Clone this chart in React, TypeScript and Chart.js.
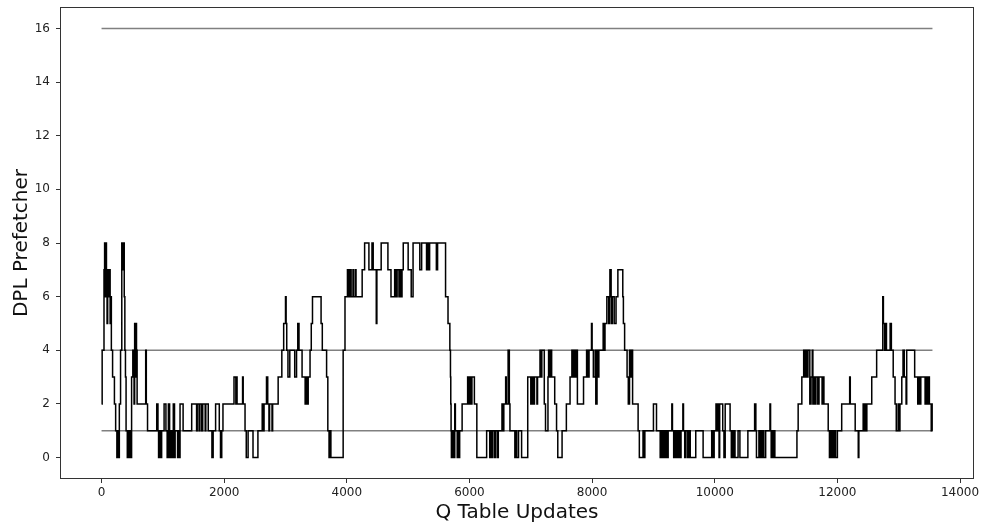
import { useEffect, useRef } from "react";
import { Chart, registerables } from "chart.js";

Chart.register(...registerables);

// Q-table update index at which the DPL prefetcher setting changes
const updates = [
  0, 10, 40, 50, 60, 70, 80, 90, 100, 110, 130, 140, 150, 160, 180, 210, 230, 250, 260, 270,
  290, 310, 330, 350, 360, 370, 380, 390, 400, 420, 435, 445, 460, 470, 490, 510, 530, 540, 550, 560,
  570, 580, 720, 730, 750, 900, 920, 930, 950, 965, 980, 1020, 1050, 1070, 1090, 1110, 1130, 1150, 1170, 1190,
  1200, 1240, 1250, 1265, 1280, 1330, 1470, 1550, 1560, 1590, 1600, 1630, 1650, 1690, 1700, 1740, 1800, 1820, 1860, 1920,
  1940, 1960, 1980, 2160, 2190, 2200, 2210, 2300, 2310, 2340, 2360, 2390, 2470, 2550, 2620, 2630, 2650, 2690, 2710, 2730,
  2740, 2780, 2790, 2880, 2940, 2970, 3000, 3010, 3020, 3040, 3070, 3150, 3180, 3200, 3220, 3270, 3320, 3330, 3350, 3370,
  3400, 3420, 3440, 3580, 3600, 3670, 3690, 3710, 3720, 3740, 3940, 3970, 4010, 4020, 4030, 4040, 4050, 4070, 4100, 4110,
  4140, 4150, 4250, 4290, 4360, 4410, 4430, 4480, 4490, 4560, 4670, 4720, 4780, 4800, 4820, 4850, 4870, 4890, 4900, 4920,
  5000, 5050, 5080, 5190, 5220, 5300, 5310, 5330, 5350, 5460, 5480, 5610, 5650, 5680, 5690, 5695, 5700, 5705, 5720, 5740,
  5760, 5770, 5800, 5810, 5830, 5840, 5880, 5970, 5990, 6010, 6030, 6040, 6080, 6120, 6280, 6330, 6350, 6370, 6380, 6410,
  6430, 6460, 6470, 6530, 6550, 6560, 6590, 6600, 6630, 6650, 6660, 6740, 6760, 6770, 6800, 6850, 6950, 7000, 7020, 7040,
  7060, 7100, 7110, 7150, 7160, 7180, 7220, 7240, 7280, 7290, 7300, 7320, 7340, 7390, 7420, 7440, 7510, 7580, 7640, 7670,
  7690, 7700, 7720, 7740, 7760, 7860, 7910, 7930, 7950, 7990, 8000, 8020, 8050, 8060, 8080, 8090, 8110, 8180, 8190, 8210,
  8240, 8270, 8280, 8290, 8310, 8330, 8360, 8390, 8420, 8500, 8510, 8530, 8570, 8590, 8610, 8620, 8640, 8660, 8750, 8770,
  8830, 8840, 8860, 9000, 9050, 9110, 9120, 9140, 9160, 9180, 9200, 9220, 9240, 9300, 9310, 9330, 9350, 9370, 9380, 9400,
  9420, 9430, 9450, 9480, 9490, 9510, 9530, 9560, 9580, 9600, 9690, 9810, 9950, 9970, 9990, 10020, 10040, 10050, 10070, 10080,
  10130, 10150, 10170, 10250, 10270, 10290, 10300, 10320, 10330, 10380, 10410, 10540, 10650, 10670, 10680, 10720, 10740, 10750, 10770, 10790,
  10800, 10830, 10900, 10910, 10920, 10940, 10960, 10970, 10980, 11340, 11360, 11420, 11450, 11470, 11490, 11510, 11520, 11550, 11570, 11590,
  11600, 11620, 11630, 11650, 11680, 11700, 11750, 11760, 11780, 11850, 11870, 11890, 11900, 11920, 11940, 11950, 11970, 12000, 12070, 12200,
  12210, 12290, 12340, 12350, 12420, 12430, 12450, 12470, 12480, 12560, 12640, 12740, 12750, 12770, 12790, 12800, 12860, 12880, 12910, 12940,
  12960, 12990, 13000, 13020, 13050, 13070, 13090, 13120, 13130, 13260, 13310, 13330, 13350, 13360, 13430, 13450, 13470, 13490, 13500, 13530,
  13540, 13545, 13550,
];

// Prefetcher degree selected from each update onward
const dpl = [
  2, 4, 7, 8, 6, 8, 7, 5, 7, 6, 7, 5, 6, 4, 3, 2, 1, 0, 1, 0,
  2, 4, 8, 7, 8, 6, 4, 3, 1, 0, 1, 0, 1, 0, 3, 4, 2, 5, 3, 5,
  4, 2, 4, 2, 1, 2, 1, 0, 1, 0, 1, 2, 1, 0, 2, 0, 1, 0, 2, 0,
  1, 0, 1, 0, 2, 1, 2, 1, 2, 1, 2, 1, 2, 1, 2, 1, 0, 1, 2, 1,
  0, 1, 2, 3, 2, 3, 2, 3, 2, 1, 0, 1, 0, 1, 2, 1, 2, 3, 2, 1,
  2, 1, 2, 3, 4, 5, 6, 5, 4, 3, 4, 3, 4, 5, 4, 3, 2, 3, 2, 3,
  4, 5, 6, 5, 4, 3, 1, 0, 1, 0, 4, 6, 7, 6, 7, 6, 7, 6, 7, 6,
  7, 6, 7, 8, 7, 8, 7, 5, 7, 8, 7, 6, 7, 6, 7, 6, 7, 6, 7, 8,
  7, 6, 8, 7, 8, 7, 8, 7, 8, 7, 8, 6, 5, 4, 3, 2, 1, 0, 1, 0,
  2, 1, 0, 1, 0, 1, 2, 3, 2, 3, 2, 3, 2, 0, 1, 0, 1, 0, 1, 0,
  1, 0, 1, 2, 1, 2, 3, 2, 4, 2, 1, 0, 1, 0, 1, 0, 3, 2, 3, 2,
  3, 2, 3, 4, 3, 4, 2, 1, 3, 4, 3, 4, 3, 2, 1, 0, 1, 2, 3, 4,
  3, 4, 3, 4, 2, 3, 4, 3, 4, 5, 4, 3, 4, 2, 4, 3, 4, 5, 4, 5,
  6, 5, 6, 7, 5, 6, 5, 6, 7, 6, 5, 4, 3, 2, 4, 3, 4, 2, 1, 0,
  1, 0, 1, 2, 1, 0, 1, 0, 1, 0, 1, 0, 1, 2, 1, 0, 1, 0, 1, 0,
  1, 0, 1, 2, 1, 0, 1, 0, 1, 0, 1, 0, 1, 0, 1, 2, 1, 2, 0, 2,
  1, 0, 2, 1, 0, 1, 0, 1, 0, 1, 0, 1, 2, 1, 0, 1, 0, 1, 0, 1,
  0, 1, 2, 1, 0, 1, 0, 1, 0, 1, 2, 3, 4, 3, 4, 3, 4, 2, 3, 4,
  2, 3, 2, 3, 2, 3, 2, 3, 2, 1, 0, 1, 0, 1, 0, 1, 0, 1, 2, 3,
  2, 1, 0, 1, 2, 1, 2, 1, 2, 3, 4, 6, 5, 4, 5, 4, 5, 4, 3, 2,
  1, 2, 1, 2, 3, 4, 3, 2, 4, 3, 2, 3, 2, 3, 2, 3, 2, 3, 2, 1,
  2, 1, 1,
];

// Reference levels drawn as horizontal guides
const referenceLevels = [16, 4, 1];

const xTicks = [0, 2000, 4000, 6000, 8000, 10000, 12000, 14000];
const yTicks = [0, 2, 4, 6, 8, 10, 12, 14, 16];

const FONT = "'DejaVu Sans', sans-serif";

// Closed rectangle round the plotting area
const frame = {
  id: "frame",
  afterDraw(chart: any) {
    const { ctx, chartArea } = chart;
    ctx.save();
    ctx.strokeStyle = "#333";
    ctx.lineWidth = 1;
    ctx.strokeRect(
      Math.round(chartArea.left) + 0.5,
      Math.round(chartArea.top) + 0.5,
      Math.round(chartArea.right - chartArea.left) - 1,
      Math.round(chartArea.bottom - chartArea.top) - 1
    );
    ctx.restore();
  },
};

export default function App() {
  const canvasRef = useRef<HTMLCanvasElement | null>(null);

  useEffect(() => {
    const canvas = canvasRef.current;
    if (!canvas) return;
    const last = updates[updates.length - 1];

    const datasets: any[] = [
      {
        label: "DPL",
        data: updates.map((x, i) => ({ x, y: dpl[i] })),
        borderColor: "#000",
        borderWidth: 1.5,
        // hold each value until the next change point, then jump
        stepped: "before",
        pointRadius: 0,
        fill: false,
        order: 0,
      },
      ...referenceLevels.map((lvl) => ({
        label: `level ${lvl}`,
        data: [
          { x: 0, y: lvl },
          { x: last, y: lvl },
        ],
        borderColor: "#808080",
        borderWidth: 1.5,
        pointRadius: 0,
        fill: false,
        order: 1,
      })),
    ];

    const chart = new Chart(canvas, {
      type: "line",
      data: { datasets },
      plugins: [frame],
      options: {
        animation: false,
        responsive: false,
        maintainAspectRatio: false,
        layout: { padding: { top: 7, right: 10, left: 0, bottom: 0 } },
        plugins: {
          legend: { display: false },
          tooltip: { enabled: false },
        },
        scales: {
          x: {
            type: "linear",
            min: -677.5,
            max: 14227.5,
            afterBuildTicks: (s: any) => {
              s.ticks = xTicks.map((v) => ({ value: v }));
            },
            afterFit: (s: any) => {
              s.height = 50;
              s.paddingLeft = 0;
              s.paddingRight = 0;
            },
            border: { display: false },
            grid: { drawOnChartArea: false, drawTicks: true, tickLength: 4, color: "#333" },
            ticks: {
              callback: (v: any) => String(v),
              color: "#222",
              padding: 3,
              maxRotation: 0,
              font: { family: FONT, size: 12 },
            },
            title: {
              display: true,
              text: "Q Table Updates",
              color: "#111",
              font: { family: FONT, size: 20 },
              padding: { top: 0, bottom: 4 },
            },
          },
          y: {
            type: "linear",
            min: -0.8,
            max: 16.8,
            afterBuildTicks: (s: any) => {
              s.ticks = yTicks.map((v) => ({ value: v }));
            },
            afterFit: (s: any) => {
              s.width = 60;
              s.paddingTop = 0;
              s.paddingBottom = 0;
            },
            border: { display: false },
            grid: { drawOnChartArea: false, drawTicks: true, tickLength: 4, color: "#333" },
            ticks: {
              callback: (v: any) => String(v),
              color: "#222",
              padding: 6,
              font: { family: FONT, size: 12 },
            },
            title: {
              display: true,
              text: "DPL Prefetcher",
              color: "#111",
              font: { family: FONT, size: 20 },
              padding: { top: 10, bottom: 0 },
            },
          },
        },
      },
    } as any);

    return () => chart.destroy();
  }, []);

  return (
    <div style={{ position: "fixed", left: 0, top: 0, width: 984, height: 529, background: "#fff" }}>
      <canvas ref={canvasRef} width={984} height={529} style={{ display: "block" }} />
    </div>
  );
}
